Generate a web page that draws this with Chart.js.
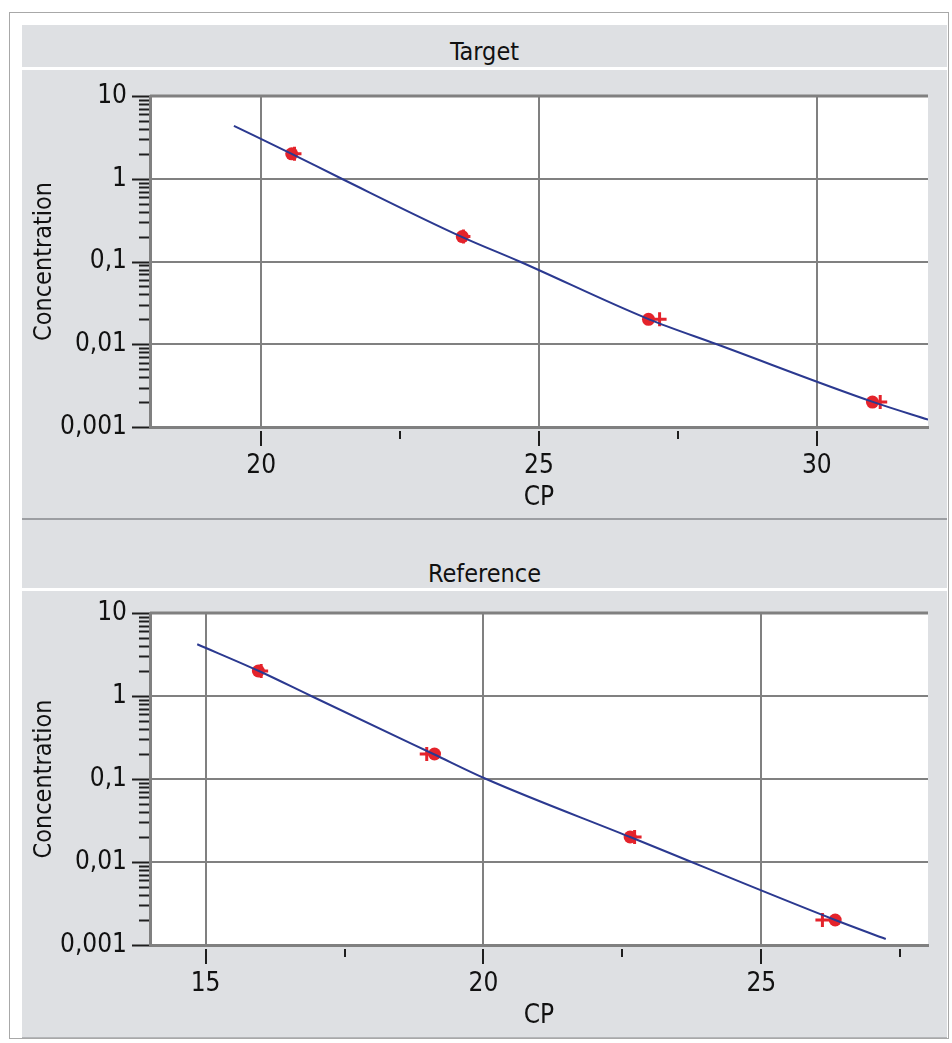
<!DOCTYPE html>
<html>
<head>
<meta charset="utf-8">
<script src="https://cdn.jsdelivr.net/npm/chart.js@4.4.1/dist/chart.umd.min.js"></script>
<style>
  body { margin: 0; background: #fff; width: 952px; height: 1043px; position: relative; overflow: hidden;
         font-family: 'Liberation Sans Narrow', 'DejaVu Sans Condensed', sans-serif; color: #111; }
  .frame { position: absolute; left: 9px; top: 12px; width: 940px; height: 1027px; border: 1px solid #a8a8a8; box-sizing: border-box; }
  .gray { position: absolute; left: 22px; width: 925px; background: #dee0e3; }
  .sep { position: absolute; left: 22px; width: 925px; background: #9c9ea2; }
  .title { position: absolute; left: 22px; width: 925px; text-align: center; font-size: 25px; line-height: 28px; height: 28px; }
  canvas { display: block; }
</style>
</head>
<body>
<div class="frame"></div>
<div class="gray" style="top:25px;height:42px"></div>
<div class="title" style="top:38px">Target</div>
<div class="gray" style="top:70px;height:448px"><canvas id="target" width="925" height="449"></canvas></div>
<div class="sep" style="top:518px;height:2px"></div>
<div class="gray" style="top:520px;height:68px"></div>
<div class="title" style="top:560px">Reference</div>
<div class="gray" style="top:591px;height:446px;border-bottom:1px solid #b4b6b9"><canvas id="reference" width="925" height="446"></canvas></div>

<script>
// Target panel: fitted curve, standards, replicates
const targetFitX = [19.51, 20.55, 21.45, 23.6, 24.65, 26.98, 28.2, 31.02, 32.05];
const targetFitY = [4.35, 2.0, 1.0, 0.2, 0.1, 0.02, 0.01, 0.002, 0.0012];
const targetDotX = [20.55, 23.62, 26.97, 31.0];
const targetDotY = [2, 0.2, 0.02, 0.002];
const targetCrossX = [20.6, 23.64, 27.17, 31.14];
const targetCrossY = [2, 0.2, 0.02, 0.002];

// Reference panel
const refFitX = [14.85, 15.96, 16.9, 19.1, 20.05, 22.64, 26.33, 27.24];
const refFitY = [4.2, 2.0, 1.0, 0.2, 0.1, 0.02, 0.002, 0.00118];
const refDotX = [15.95, 19.12, 22.64, 26.33];
const refDotY = [2, 0.2, 0.02, 0.002];
const refCrossX = [16.0, 18.98, 22.72, 26.1];
const refCrossY = [2, 0.2, 0.02, 0.002];

// axes
const yDecades = [0.001, 0.01, 0.1, 1, 10];
const yTickLabels = ['0,001', '0,01', '0,1', '1', '10'];

const FONT = "'Liberation Sans Narrow', 'DejaVu Sans Condensed', sans-serif";
const RED = '#e4232b';
const BLUE = '#2b3990';
const GRID = '#808080';

function decadeIndex(v) {
  return yDecades.findIndex(d => Math.abs(d - v) / d < 1e-6);
}

const plotDecor = {
  id: 'plotDecor',
  beforeDraw(chart) {
    const { ctx, chartArea: a } = chart;
    ctx.save();
    ctx.fillStyle = '#fff';
    ctx.fillRect(a.left, a.top, a.right - a.left, a.bottom - a.top);
    ctx.restore();
  },
  afterDraw(chart) {
    const { ctx, chartArea: a, scales: { x, y } } = chart;
    ctx.save();
    ctx.strokeStyle = '#1e1e1e';
    ctx.lineWidth = 2;
    y.ticks.forEach(t => {
      const py = Math.round(y.getPixelForValue(t.value)) + 0.5;
      const len = decadeIndex(t.value) >= 0 ? 18 : 11;
      ctx.beginPath();
      ctx.moveTo(a.left - len, py);
      ctx.lineTo(a.left - 1, py);
      ctx.stroke();
    });
    x.ticks.forEach(t => {
      const px = Math.round(x.getPixelForValue(t.value));
      const len = t.value % 5 === 0 ? 15 : 8;
      ctx.beginPath();
      ctx.moveTo(px, a.bottom + 4);
      ctx.lineTo(px, a.bottom + 4 + len);
      ctx.stroke();
    });
    ctx.strokeStyle = GRID;
    ctx.lineWidth = 3;
    ctx.beginPath();
    ctx.moveTo(a.left, a.top);
    ctx.lineTo(a.right, a.top);
    ctx.stroke();
    ctx.restore();
  }
};

function points(xs, ys) {
  return xs.map((x, i) => ({ x, y: ys[i] }));
}

function makeChart(id, xMin, xMax, fitX, fitY, dotX, dotY, crossX, crossY, topPad) {
  return new Chart(document.getElementById(id), {
    type: 'scatter',
    data: {
      datasets: [
        {
          label: 'Fit',
          data: points(fitX, fitY),
          showLine: true,
          cubicInterpolationMode: 'monotone',
          borderColor: BLUE,
          borderWidth: 2,
          pointRadius: 0,
          order: 0
        },
        {
          label: 'Standards',
          data: points(dotX, dotY),
          pointStyle: 'circle',
          pointRadius: 6.5,
          backgroundColor: RED,
          borderColor: RED,
          borderWidth: 0,
          order: 2
        },
        {
          label: 'Replicates',
          data: points(crossX, crossY),
          pointStyle: 'cross',
          pointRadius: 7,
          borderColor: RED,
          borderWidth: 3,
          order: 1
        }
      ]
    },
    options: {
      responsive: false,
      animation: false,
      devicePixelRatio: 1,
      layout: { padding: { top: topPad, right: 19, left: 0, bottom: 0 } },
      plugins: { legend: { display: false }, tooltip: { enabled: false } },
      scales: {
        x: {
          type: 'linear',
          min: xMin,
          max: xMax,
          afterFit: s => { s.height = 92; s.paddingLeft = 0; s.paddingRight = 0; },
          ticks: {
            stepSize: 2.5,
            includeBounds: false,
            autoSkip: false,
            maxRotation: 0,
            padding: 24,
            color: '#111',
            font: { family: FONT, size: 26 },
            callback: v => (v % 5 === 0 ? String(v) : '')
          },
          grid: {
            drawTicks: false,
            lineWidth: 2,
            color: c => (c.tick && c.tick.value % 5 === 0 ? GRID : 'rgba(0,0,0,0)')
          },
          border: { display: true, color: GRID, width: 3 },
          title: {
            display: true,
            text: 'CP',
            color: '#111',
            font: { family: FONT, size: 26 },
            padding: { top: 0, bottom: 5 }
          }
        },
        y: {
          type: 'logarithmic',
          min: yDecades[0],
          max: yDecades[yDecades.length - 1],
          afterFit: s => { s.width = 128; s.paddingTop = 0; s.paddingBottom = 0; },
          afterBuildTicks: s => {
            const ticks = [];
            yDecades.forEach((d, i) => {
              if (i === yDecades.length - 1) { ticks.push({ value: d }); return; }
              for (let m = 1; m <= 9; m++) ticks.push({ value: d * m });
            });
            s.ticks = ticks;
          },
          ticks: {
            autoSkip: false,
            padding: 23,
            color: '#111',
            font: { family: FONT, size: 26 },
            callback: v => {
              const i = decadeIndex(v);
              return i >= 0 ? yTickLabels[i] : '';
            }
          },
          grid: {
            drawTicks: false,
            lineWidth: 2,
            color: c => (c.tick && decadeIndex(c.tick.value) >= 0 ? GRID : 'rgba(0,0,0,0)')
          },
          border: { display: true, color: GRID, width: 3 },
          title: {
            display: true,
            text: 'Concentration',
            color: '#111',
            font: { family: FONT, size: 25 },
            padding: { top: 7, bottom: 0 }
          }
        }
      }
    },
    plugins: [plotDecor]
  });
}

makeChart('target', 18, 32, targetFitX, targetFitY, targetDotX, targetDotY, targetCrossX, targetCrossY, 26);
makeChart('reference', 14, 28, refFitX, refFitY, refDotX, refDotY, refCrossX, refCrossY, 22);
</script>
</body>
</html>
